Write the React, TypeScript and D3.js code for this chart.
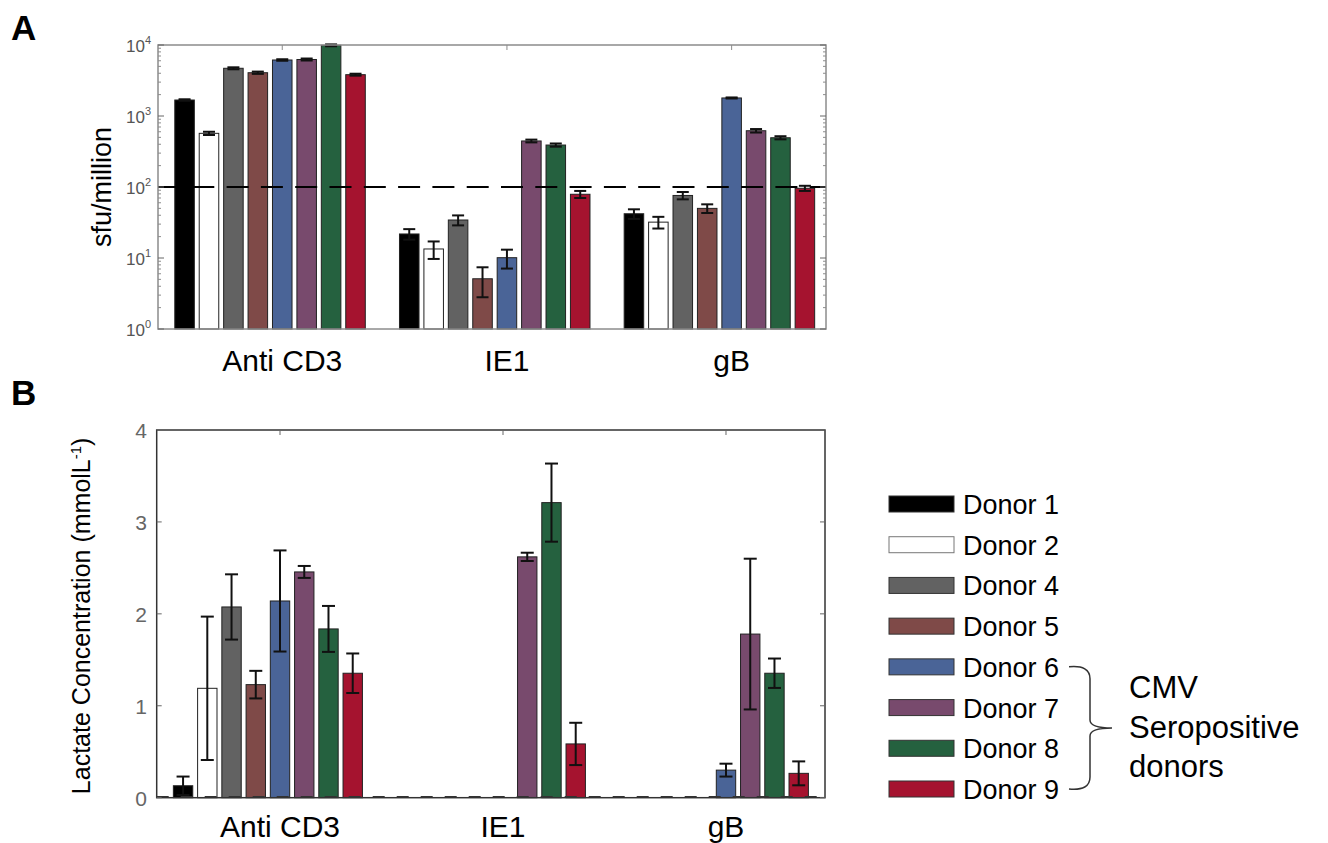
import React, { useRef, useEffect } from "react";
import * as d3 from "d3";

const donors = ["Donor 1", "Donor 2", "Donor 4", "Donor 5", "Donor 6", "Donor 7", "Donor 8", "Donor 9"];
const donorColors = ["#000000", "#ffffff", "#626262", "#7f4a48", "#4a6497", "#784a6d", "#25613f", "#a5132f"];
const stimuli = ["Anti CD3", "IE1", "gB"];

// panel A: ELISpot, sfu per million cells (log axis)
const sfuAntiCD3 = [1680, 570, 4700, 4070, 6150, 6250, 9900, 3820];
const sfuAntiCD3Err = [40, 30, 150, 150, 150, 200, 300, 120];
const sfuIE1 = [21.8, 13.4, 34.3, 5.1, 10.1, 445, 390, 79];
const sfuIE1Err = [3.7, 3.7, 5.5, 2.3, 3, 20, 20, 9];
const sfuGB = [42, 32, 76, 50, 1795, 620, 494, 96];
const sfuGBErr = [6.5, 6, 9, 7, 30, 35, 25, 8];
const sfuThreshold = 100;
const sfuTicks = [1, 10, 100, 1000, 10000];

// panel B: lactate concentration, mmol/L
const lacAntiCD3 = [0.13, 1.19, 2.075, 1.23, 2.14, 2.456, 1.836, 1.354];
const lacAntiCD3Err = [0.1, 0.78, 0.355, 0.15, 0.55, 0.065, 0.25, 0.215];
const lacIE1 = [0, 0, 0, 0, 0, 2.62, 3.21, 0.585];
const lacIE1Err = [0, 0, 0, 0, 0, 0.045, 0.425, 0.23];
const lacGB = [0, 0, 0, 0, 0.3, 1.78, 1.354, 0.265];
const lacGBErr = [0, 0, 0, 0, 0.07, 0.82, 0.16, 0.13];
const lacTicks = [0, 1, 2, 3, 4];

const seropositive = ["Donor 6", "Donor 9"];

const FONT = "'Liberation Sans', Arial, Helvetica, sans-serif";

function drawBars(g, xs, ys, base, values, errors, capW) {
  // 9 slots per group, last one left empty
  const slot = d3
    .scaleBand()
    .domain(d3.range(donors.length + 1))
    .range([-0.5, 0.5])
    .padding(0.2);
  const bw = xs(slot.bandwidth()) - xs(0);
  const rows = [];
  values.forEach((vals, gi) =>
    vals.forEach((v, di) => rows.push({ gi, di, v, e: errors[gi][di] }))
  );
  const shown = rows.filter((r) => r.v > 0);
  const left = (d) => xs(d.gi + 1 + slot(d.di));

  g.selectAll("rect.bar")
    .data(shown)
    .enter()
    .append("rect")
    .attr("class", "bar")
    .attr("x", left)
    .attr("y", (d) => ys(d.v))
    .attr("width", bw)
    .attr("height", (d) => ys(base) - ys(d.v))
    .attr("fill", (d) => donorColors[d.di])
    .attr("stroke", "#222")
    .attr("stroke-width", 1);

  return (layer) => {
    const err = layer
      .selectAll("g.err")
      .data(shown.filter((d) => d.e > 0))
      .enter()
      .append("g")
      .attr("stroke", "#111")
      .attr("stroke-width", 2);
    const cx = (d) => left(d) + bw / 2;
    err
      .append("line")
      .attr("x1", cx)
      .attr("x2", cx)
      .attr("y1", (d) => ys(d.v + d.e))
      .attr("y2", (d) => ys(d.v - d.e));
    [1, -1].forEach((s) =>
      err
        .append("line")
        .attr("x1", (d) => cx(d) - capW / 2)
        .attr("x2", (d) => cx(d) + capW / 2)
        .attr("y1", (d) => ys(d.v + s * d.e))
        .attr("y2", (d) => ys(d.v + s * d.e))
    );
  };
}

const App = () => {
  const ref = useRef(null);

  useEffect(() => {
    const svg = d3.select(ref.current);
    svg.selectAll("*").remove();
    svg.attr("font-family", FONT);

    // ---------- Panel A ----------
    const xA = d3.scaleLinear().domain([0.447, 3.42]).range([158, 826]);
    const yA = d3.scaleLog().domain([1, 10000]).range([329, 45]);
    const gA = svg.append("g");

    const errA = drawBars(
      gA,
      xA,
      yA,
      1,
      [sfuAntiCD3, sfuIE1, sfuGB],
      [sfuAntiCD3Err, sfuIE1Err, sfuGBErr],
      12
    );

    gA.append("line")
      .attr("x1", xA.range()[0])
      .attr("x2", xA.range()[1])
      .attr("y1", yA(sfuThreshold))
      .attr("y2", yA(sfuThreshold))
      .attr("stroke", "#000")
      .attr("stroke-width", 2)
      .attr("stroke-dasharray", "22,12.3");
    errA(gA);

    gA.append("rect")
      .attr("x", xA.range()[0])
      .attr("y", yA.range()[1])
      .attr("width", xA.range()[1] - xA.range()[0])
      .attr("height", yA.range()[0] - yA.range()[1])
      .attr("fill", "none")
      .attr("stroke", "#8c8c8c")
      .attr("stroke-width", 1.5);

    // log ticks, both sides, inward
    const minor = [];
    for (let d = 0; d < 4; d++) for (let k = 2; k < 10; k++) minor.push(k * 10 ** d);
    [xA.range()[0], xA.range()[1]].forEach((x0, side) => {
      const dir = side === 0 ? 1 : -1;
      gA.selectAll(null)
        .data(minor)
        .enter()
        .append("line")
        .attr("x1", x0)
        .attr("x2", x0 + dir * 3)
        .attr("y1", (d) => yA(d))
        .attr("y2", (d) => yA(d))
        .attr("stroke", "#8c8c8c");
      gA.selectAll(null)
        .data(sfuTicks)
        .enter()
        .append("line")
        .attr("x1", x0)
        .attr("x2", x0 + dir * 6)
        .attr("y1", (d) => yA(d))
        .attr("y2", (d) => yA(d))
        .attr("stroke", "#666");
    });
    gA.selectAll(null)
      .data(stimuli)
      .enter()
      .append("line")
      .attr("x1", (d, i) => xA(i + 1))
      .attr("x2", (d, i) => xA(i + 1))
      .attr("y1", yA.range()[1])
      .attr("y2", yA.range()[1] + 5)
      .attr("stroke", "#8c8c8c");

    const tA = gA
      .selectAll("text.tick")
      .data(sfuTicks)
      .enter()
      .append("text")
      .attr("class", "tick")
      .attr("x", 151)
      .attr("y", (d) => yA(d) + 7)
      .attr("text-anchor", "end")
      .attr("fill", "#555")
      .attr("font-size", 17);
    tA.append("tspan").text("10");
    tA.append("tspan")
      .attr("dy", -8)
      .attr("font-size", 11)
      .text((d) => Math.round(Math.log10(d)));

    gA.selectAll("text.cat")
      .data(stimuli)
      .enter()
      .append("text")
      .attr("class", "cat")
      .attr("x", (d, i) => xA(i + 1))
      .attr("y", 371)
      .attr("text-anchor", "middle")
      .attr("font-size", 30)
      .text((d) => d);

    gA.append("text")
      .attr("transform", `translate(111,${yA(100)}) rotate(-90)`)
      .attr("text-anchor", "middle")
      .attr("font-size", 27)
      .text("sfu/million");

    svg.append("text")
      .attr("x", 11)
      .attr("y", 40)
      .attr("font-size", 35)
      .attr("font-weight", "bold")
      .text("A");

    // ---------- Panel B ----------
    const xB = d3.scaleLinear().domain([0.447, 3.444]).range([156.7, 825]);
    const yB = d3.scaleLinear().domain([0, 4]).range([797.7, 430]);
    const gB = svg.append("g");

    const errB = drawBars(
      gB,
      xB,
      yB,
      0,
      [lacAntiCD3, lacIE1, lacGB],
      [lacAntiCD3Err, lacIE1Err, lacGBErr],
      13
    );
    gB.append("line")
      .attr("x1", xB.range()[0])
      .attr("x2", xB.range()[1])
      .attr("y1", yB(0) - 1)
      .attr("y2", yB(0) - 1)
      .attr("stroke", "#333")
      .attr("stroke-width", 1.5)
      .attr("stroke-dasharray", "12,12");
    errB(gB);

    gB.append("rect")
      .attr("x", xB.range()[0])
      .attr("y", yB.range()[1])
      .attr("width", xB.range()[1] - xB.range()[0])
      .attr("height", yB.range()[0] - yB.range()[1])
      .attr("fill", "none")
      .attr("stroke", "#333")
      .attr("stroke-width", 1.5);

    [xB.range()[0], xB.range()[1]].forEach((x0, side) => {
      const dir = side === 0 ? 1 : -1;
      gB.selectAll(null)
        .data(lacTicks)
        .enter()
        .append("line")
        .attr("x1", x0)
        .attr("x2", x0 + dir * 5)
        .attr("y1", (d) => yB(d))
        .attr("y2", (d) => yB(d))
        .attr("stroke", "#666");
    });
    gB.selectAll(null)
      .data(stimuli)
      .enter()
      .append("line")
      .attr("x1", (d, i) => xB(i + 1))
      .attr("x2", (d, i) => xB(i + 1))
      .attr("y1", yB.range()[1])
      .attr("y2", yB.range()[1] + 5)
      .attr("stroke", "#666");

    gB.selectAll("text.tick")
      .data(lacTicks)
      .enter()
      .append("text")
      .attr("class", "tick")
      .attr("x", 147)
      .attr("y", (d) => yB(d) + 8)
      .attr("text-anchor", "end")
      .attr("fill", "#666")
      .attr("font-size", 21)
      .text((d) => d);

    gB.selectAll("text.cat")
      .data(stimuli)
      .enter()
      .append("text")
      .attr("class", "cat")
      .attr("x", (d, i) => xB(i + 1))
      .attr("y", 837)
      .attr("text-anchor", "middle")
      .attr("font-size", 30)
      .text((d) => d);

    const yl = gB
      .append("text")
      .attr("transform", `translate(90,${(yB(0) + yB(4)) / 2 + 2}) rotate(-90)`)
      .attr("text-anchor", "middle")
      .attr("font-size", 25);
    yl.append("tspan").text("Lactate Concentration (mmolL");
    yl.append("tspan").attr("dy", -9).attr("font-size", 15).text("-1");
    yl.append("tspan").attr("dy", 9).text(")");

    svg.append("text")
      .attr("x", 11)
      .attr("y", 405)
      .attr("font-size", 35)
      .attr("font-weight", "bold")
      .text("B");

    // ---------- Legend ----------
    const yL = d3.scalePoint().domain(donors).range([504, 789]);
    const leg = svg
      .append("g")
      .selectAll("g")
      .data(donors)
      .enter()
      .append("g")
      .attr("transform", (d) => `translate(0,${yL(d)})`);
    leg.append("rect")
      .attr("x", 889)
      .attr("y", -8)
      .attr("width", 65)
      .attr("height", 16)
      .attr("fill", (d, i) => donorColors[i])
      .attr("stroke", (d, i) => (i === 1 ? "#777" : "#333"))
      .attr("stroke-width", 1);
    leg.append("text")
      .attr("x", 963)
      .attr("y", 10)
      .attr("font-size", 27)
      .text((d) => d);

    const yTop = yL(seropositive[0]);
    const yBot = yL(seropositive[1]);
    const yMid = (yTop + yBot) / 2;
    svg.append("path")
      .attr(
        "d",
        `M1069,${yTop} Q1090,${yTop - 2} 1090,${yTop + 12} L1090,${yMid - 8} Q1090,${yMid} 1112,${yMid}` +
          ` Q1090,${yMid} 1090,${yMid + 8} L1090,${yBot - 12} Q1090,${yBot + 2} 1069,${yBot}`
      )
      .attr("fill", "none")
      .attr("stroke", "#333")
      .attr("stroke-width", 1.5);

    svg.append("g")
      .selectAll("text")
      .data(["CMV", "Seropositive", "donors"])
      .enter()
      .append("text")
      .attr("x", 1129)
      .attr("y", (d, i) => 698 + i * 39.5)
      .attr("font-size", 31)
      .text((d) => d);
  }, []);

  return (
    <svg
      ref={ref}
      width={1328}
      height={843}
      style={{ position: "absolute", left: 0, top: 0, display: "block", background: "#fff" }}
    />
  );
};

export default App;
